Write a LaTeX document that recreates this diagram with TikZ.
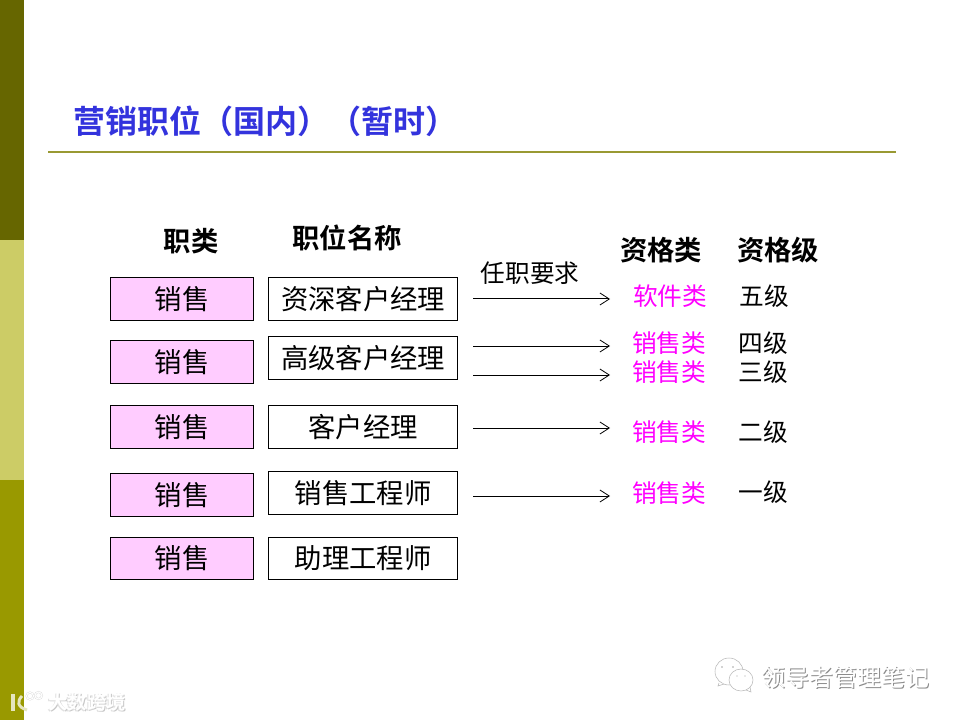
\documentclass[tikz,border=0pt]{standalone}
\usepackage{fontspec}
\setmainfont{Noto Sans CJK SC}[BoldFont=* Bold]
\usetikzlibrary{arrows.meta}
\definecolor{olivea}{HTML}{666600}
\definecolor{oliveb}{HTML}{CCCC66}
\definecolor{olivec}{HTML}{999900}
\definecolor{ruleol}{HTML}{999933}
\definecolor{titleblue}{HTML}{3333DD}
\definecolor{pinkbox}{HTML}{FFCCFF}
\definecolor{magtext}{HTML}{FF00FF}
\tikzset{
  x=0.75pt,y=-0.75pt,
  bx/.style={draw=black,line width=0.75pt,inner sep=0pt,font=\fontsize{20.5}{24}\selectfont,text=black},
  catbox/.style={bx,fill=pinkbox,minimum width=107.5pt,minimum height=32pt},
  posbox/.style={bx,fill=white,minimum width=141.5pt,minimum height=32pt},
  head/.style={inner sep=0pt,font=\fontsize{20.5}{24}\selectfont\bfseries,text=black},
  lab/.style={inner sep=0pt,font=\fontsize{18.5}{22}\selectfont,text=black},
  mag/.style={lab,text=magtext},
  arr/.style={draw=black,line width=0.75pt,-{Straight Barb[length=7pt,width=9pt,line width=0.6pt]}},
  wmleft/.style={inner sep=0pt,font=\fontsize{14.5}{16}\selectfont\bfseries},
  wmright/.style={inner sep=0pt,font=\fontsize{18}{20}\selectfont},
}
\begin{document}
\begin{tikzpicture}
\useasboundingbox (0,0) rectangle (960,720);
\fill[white] (0,0) rectangle (960,720);
\fill[olivea] (0,0) rectangle (24,240);
\fill[oliveb] (0,240) rectangle (24,480);
\fill[olivec] (0,480) rectangle (24,720);
\node[inner sep=0pt,anchor=west,text=titleblue,font=\fontsize{24}{30}\selectfont\bfseries] (title) at (73,121) {营销职位（国内）（暂时）};
\draw[ruleol,line width=1.5pt] (48,152) -- (896,152);
\node[head] (h1) at (191,241) {职类};
\node[head] (h2) at (347,238) {职位名称};
\node[head] (h3) at (661,250) {资格类};
\node[head] (h4) at (778,250) {资格级};
\node[catbox] (c1) at (182,299) {销售};
\node[catbox] (c2) at (182,362) {销售};
\node[catbox] (c3) at (182,427) {销售};
\node[catbox] (c4) at (182,495) {销售};
\node[catbox] (c5) at (182,558.5) {销售};
\node[posbox] (p1) at (363,299) {资深客户经理};
\node[posbox] (p2) at (363,358) {高级客户经理};
\node[posbox] (p3) at (363,427) {客户经理};
\node[posbox] (p4) at (363,493) {销售工程师};
\node[posbox] (p5) at (363,558.5) {助理工程师};
\node[lab] (req) at (530,273) {任职要求};
\coordinate (a1s) at (473,299); \coordinate (a1e) at (610,299);
\coordinate (a2s) at (473,346); \coordinate (a2e) at (610,346);
\coordinate (a3s) at (473,375); \coordinate (a3e) at (610,375);
\coordinate (a4s) at (473,428); \coordinate (a4e) at (610,428);
\coordinate (a5s) at (473,496); \coordinate (a5e) at (610,496);
\draw[arr] (a1s) -- (a1e);
\draw[arr] (a2s) -- (a2e);
\draw[arr] (a3s) -- (a3e);
\draw[arr] (a4s) -- (a4e);
\draw[arr] (a5s) -- (a5e);
\node[mag] (m1) at (670,296) {软件类};
\node[mag] (m2) at (669,343) {销售类};
\node[mag] (m3) at (669,372) {销售类};
\node[mag] (m4) at (669,432) {销售类};
\node[mag] (m5) at (669,493) {销售类};
\node[lab] (g5) at (764,296) {五级};
\node[lab] (g4) at (763,343) {四级};
\node[lab] (g3) at (763,372) {三级};
\node[lab] (g2) at (763,432) {二级};
\node[lab] (g1) at (763,492) {一级};
% left watermark
\node[wmleft,text=black!22] (w1a) at (88,703) {大数跨境};
\node[wmleft,text=black!12] (w1b) at (86,703.5) {大数跨境};
\node[wmleft,text=white] (w1) at (87,702) {大数跨境};
\draw[black!15,line width=1.4pt] (30,696) circle (3.5) (38.5,695.5) circle (3.5);
\draw[white,line width=0.8pt] (30,696) circle (3.5) (38.5,695.5) circle (3.5);
\draw[white!75!olivec,line width=3pt] (13,694) -- (13,711);
\draw[white!75!olivec,line width=2.2pt] (22,696) .. controls (17,701) and (17,707) .. (27,710);
% right watermark
\node[wmright,text=black!45] (w2) at (846,678) {领导者管理笔记};
\node[wmright,text=white] (w3) at (845,677) {领导者管理笔记};
\draw[black!28,line width=0.4pt,fill=white] (729,671.5) ellipse (14 and 13.5);
\draw[black!28,line width=0.4pt,fill=white] (719,683) -- (718,686) -- (724,684);
\draw[black!28,line width=0.4pt,fill=white] (741,680) ellipse (12 and 11);
\draw[black!28,line width=0.4pt] (746,690) -- (751,692) -- (750,687);
\fill[black!35] (722,667) circle (0.8) (733,667) circle (0.8) (737,676) circle (0.7) (745,676) circle (0.7);
\end{tikzpicture}
\end{document}
